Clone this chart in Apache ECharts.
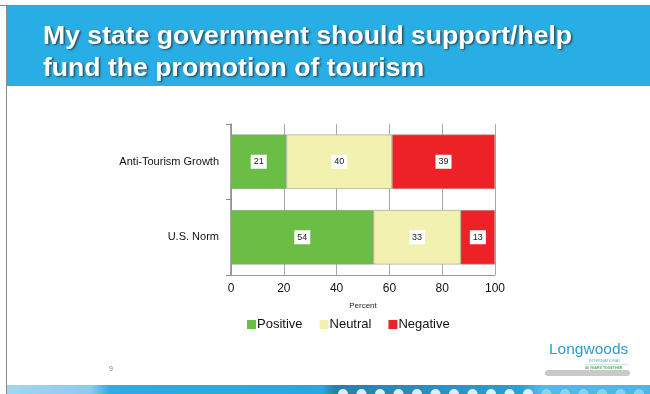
<!DOCTYPE html>
<html>
<head>
<meta charset="utf-8">
<script src="https://cdn.jsdelivr.net/npm/echarts@6/dist/echarts.min.js"></script>
<style>
  html, body { margin: 0; padding: 0; background: #fff; }
  #chart { width: 650px; height: 394px; }
</style>
</head>
<body>
<div id="chart"></div>
<script>
// Survey groups and their response shares (percent)
const categories = ['Anti-Tourism Growth', 'U.S. Norm'];
const positive = [21, 54];
const neutral = [40, 33];
const negative = [39, 13];
const xTicks = [0, 20, 40, 60, 80, 100];

const titleLines = ['My state government should support/help', 'fund the promotion of tourism'];

const chart = echarts.init(document.getElementById('chart'), null, { renderer: 'canvas' });

const valueLabel = {
  show: true,
  position: 'inside',
  color: '#222',
  fontFamily: 'Liberation Sans, Arial, sans-serif',
  fontSize: 9,
  backgroundColor: '#ffffff',
  padding: [3, 3, 2, 3]
};

function stackSeries(name, data, color) {
  return {
    name: name,
    type: 'bar',
    stack: 'total',
    barWidth: '72%',
    data: data,
    itemStyle: { color: color, borderColor: '#9a9a8a', borderWidth: 0.6 },
    label: valueLabel,
    emphasis: { disabled: true }
  };
}

// Dotted strip along the bottom edge
const dots = [];
for (let i = 0; i < 17; i++) {
  dots.push({
    type: 'circle',
    shape: { cx: 343 + i * 18.5, cy: 394, r: 5 },
    style: { fill: i < 11 ? 'rgba(255,255,255,0.85)' : 'rgba(255,255,255,0.35)' },
    silent: true
  });
}

chart.setOption({
  animation: false,
  backgroundColor: '#ffffff',
  graphic: [
    // page frame
    { type: 'line', shape: { x1: 0, y1: 5.5, x2: 650, y2: 5.5 }, style: { stroke: '#8a8a8a', lineWidth: 1 } },
    { type: 'line', shape: { x1: 6.5, y1: 5, x2: 6.5, y2: 394 }, style: { stroke: '#8a8a8a', lineWidth: 1 } },
    // header band
    { type: 'rect', shape: { x: 7, y: 6, width: 643, height: 80 }, style: { fill: '#28aee4' } },
    {
      type: 'text', x: 43, y: 21, scaleX: 1.064,
      style: {
        text: titleLines.join('\n'),
        fill: '#ffffff',
        font: 'bold 25px "Liberation Sans", Arial, sans-serif',
        lineHeight: 32,
        textShadowColor: 'rgba(40,40,40,0.75)',
        textShadowOffsetX: 1.5,
        textShadowOffsetY: 1.5,
        textShadowBlur: 2
      }
    },
    // page number
    { type: 'text', left: 109, top: 366, style: { text: '9', fill: '#7a7a7a', font: '7px "Liberation Sans", Arial, sans-serif' } },
    // footer band
    {
      type: 'rect', shape: { x: 7, y: 385, width: 643, height: 9 },
      style: {
        fill: new echarts.graphic.LinearGradient(0, 0, 1, 0, [
          { offset: 0, color: '#a3d5ef' },
          { offset: 0.13, color: '#8ccbec' },
          { offset: 0.16, color: '#33aae1' },
          { offset: 0.49, color: '#2ba6de' },
          { offset: 0.51, color: '#2a7fa8' },
          { offset: 0.8, color: '#2f9ed2' },
          { offset: 0.83, color: '#55b9e6' },
          { offset: 1, color: '#4db5e5' }
        ])
      }
    },
    { type: 'group', children: dots },
    // logo
    { type: 'rect', shape: { x: 545, y: 370, width: 85, height: 6, r: 3 }, style: { fill: '#c9c9c9' } },
    { type: 'text', left: 549, top: 342, style: { text: 'Longwoods', fill: '#2a9bd0', font: '15.5px "Liberation Sans", Arial, sans-serif' } },
    { type: 'text', left: 589, top: 359, style: { text: 'INTERNATIONAL', fill: '#4fb3d9', font: '4px "Liberation Sans", Arial, sans-serif' } },
    { type: 'line', shape: { x1: 585, y1: 364.5, x2: 628, y2: 364.5 }, style: { stroke: '#a6d4e8', lineWidth: 0.6 } },
    { type: 'text', left: 585, top: 366, style: { text: '40 YEARS TOGETHER', fill: '#5aa84a', font: 'bold 3.5px "Liberation Sans", Arial, sans-serif' } }
  ],
  legend: {
    left: 247,
    top: 318,
    padding: 0,
    itemWidth: 9,
    itemHeight: 9,
    itemGap: 17,
    icon: 'rect',
    itemStyle: { borderWidth: 0 },
    textStyle: { fontFamily: 'Liberation Sans, Arial, sans-serif', fontSize: 13, color: '#111', padding: [0, 0, 0, -4] },
    data: ['Positive', 'Neutral', 'Negative']
  },
  grid: { left: 231, right: 155, top: 124, bottom: 119, containLabel: false },
  xAxis: {
    type: 'value',
    min: 0,
    max: 100,
    interval: 20,
    name: 'Percent',
    nameLocation: 'middle',
    nameGap: 27,
    nameTextStyle: { fontFamily: 'Liberation Sans, Arial, sans-serif', fontSize: 8, color: '#222' },
    axisLine: { show: true, lineStyle: { color: '#9a9a9a', width: 1 } },
    axisTick: { show: false },
    axisLabel: {
      margin: 8,
      fontFamily: 'Liberation Sans, Arial, sans-serif',
      fontSize: 12,
      color: '#111',
      formatter: v => (xTicks.includes(v) ? String(v) : '')
    },
    splitLine: { show: true, lineStyle: { color: '#a8a8a8', width: 1 } }
  },
  yAxis: {
    type: 'category',
    data: categories,
    inverse: true,
    axisLine: { show: true, lineStyle: { color: '#8a8a8a', width: 1.5 } },
    axisTick: { show: true, length: 5, lineStyle: { color: '#8a8a8a' } },
    axisLabel: {
      margin: 12,
      fontFamily: 'Liberation Sans, Arial, sans-serif',
      fontSize: 11,
      color: '#111'
    }
  },
  series: [
    stackSeries('Positive', positive, '#6cbd45'),
    stackSeries('Neutral', neutral, '#f3f1b0'),
    stackSeries('Negative', negative, '#ec2227')
  ]
});
</script>
</body>
</html>
